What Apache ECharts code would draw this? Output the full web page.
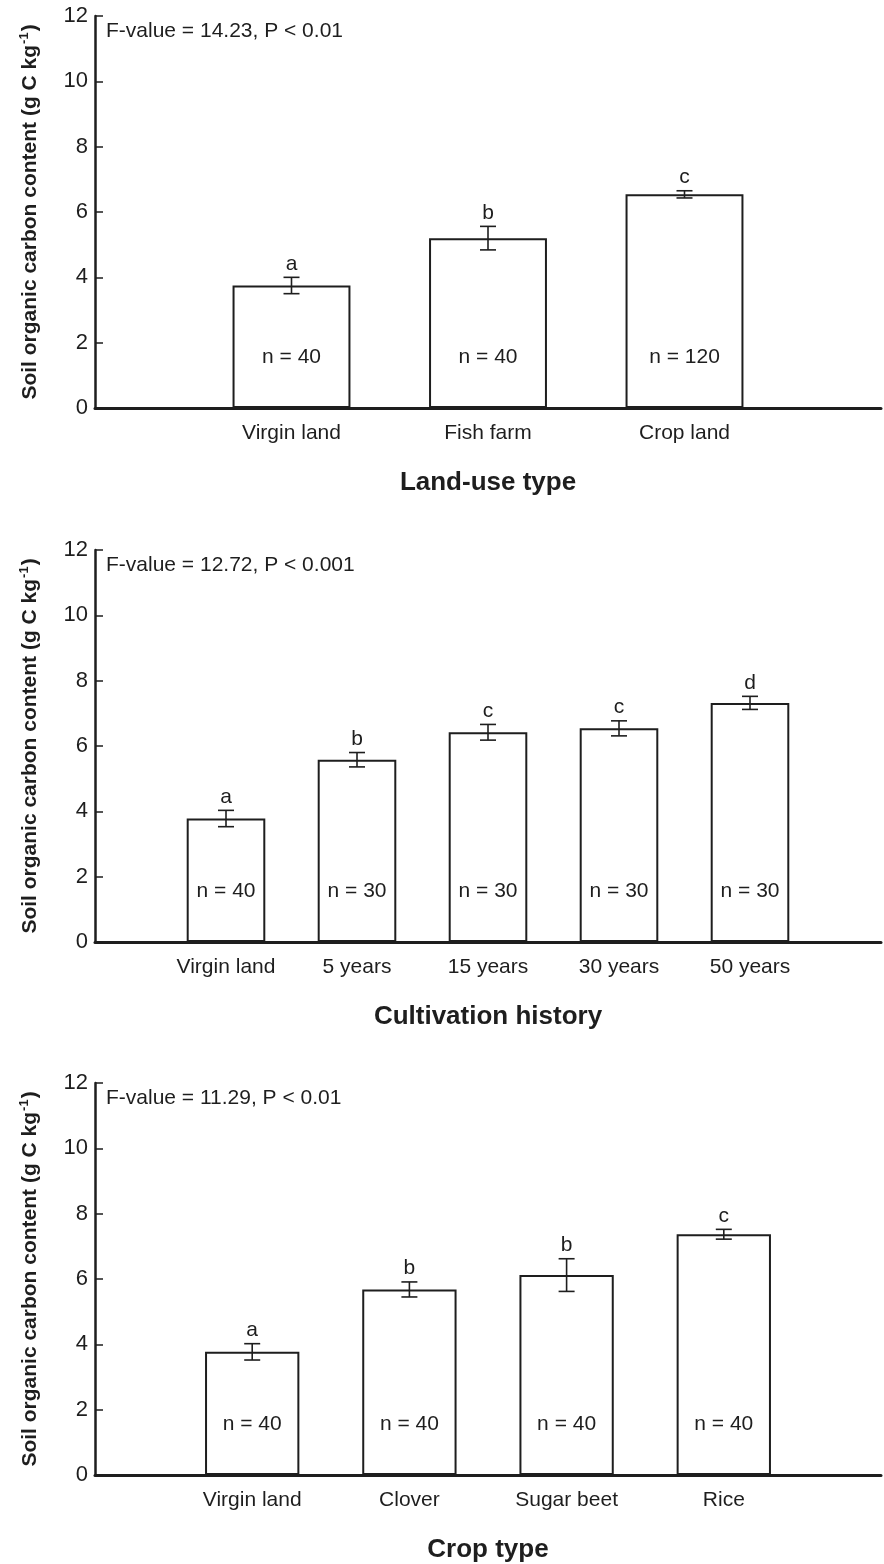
<!DOCTYPE html>
<html>
<head>
<meta charset="utf-8">
<script src="https://cdn.jsdelivr.net/npm/echarts@6/dist/echarts.min.js"></script>
<style>
  html, body { margin: 0; padding: 0; background: #fff; }
  #chart { width: 884px; height: 1564px; }
</style>
</head>
<body>
<div id="chart"></div>
<script>
// ---------- DATA ----------
const cats1 = ['Virgin land', 'Fish farm', 'Crop land'];
const mean1 = [3.75, 5.20, 6.54];
const err1 = [0.25, 0.36, 0.11];
const letters1 = ['a', 'b', 'c'];
const n1 = [40, 40, 120];
const stat1 = 'F-value = 14.23, P < 0.01';
const xTitle1 = 'Land-use type';

const cats2 = ['Virgin land', '5 years', '15 years', '30 years', '50 years'];
const mean2 = [3.78, 5.58, 6.42, 6.54, 7.32];
const err2 = [0.25, 0.22, 0.24, 0.23, 0.20];
const letters2 = ['a', 'b', 'c', 'c', 'd'];
const n2 = [40, 30, 30, 30, 30];
const stat2 = 'F-value = 12.72, P < 0.001';
const xTitle2 = 'Cultivation history';

const cats3 = ['Virgin land', 'Clover', 'Sugar beet', 'Rice'];
const mean3 = [3.77, 5.68, 6.12, 7.37];
const err3 = [0.25, 0.23, 0.50, 0.15];
const letters3 = ['a', 'b', 'b', 'c'];
const n3 = [40, 40, 40, 40];
const stat3 = 'F-value = 11.29, P < 0.01';
const xTitle3 = 'Crop type';

const yTicks = [0, 2, 4, 6, 8, 10, 12];
const yTitle = 'Soil organic carbon content (g C kg';

// ---------- STYLE / LAYOUT ----------
const FONT = 'Liberation Sans, Arial, Helvetica, sans-serif';
const INK = '#1e1e1e';
const panelTops = [16, 550, 1083];
const panelH = 392;
const gridLeft = 95;
const gridRight = 2;
const nLabelLevel = 1.57;

const panels = [
  { cats: cats1, mean: mean1, err: err1, letters: letters1, n: n1, stat: stat1, title: xTitle1 },
  { cats: cats2, mean: mean2, err: err2, letters: letters2, n: n2, stat: stat2, title: xTitle2 },
  { cats: cats3, mean: mean3, err: err3, letters: letters3, n: n3, stat: stat3, title: xTitle3 }
];

const chart = echarts.init(document.getElementById('chart'), null, { renderer: 'canvas' });

const grid = [], xAxis = [], yAxis = [], series = [], title = [];

panels.forEach((p, k) => {
  grid.push({ left: gridLeft, right: gridRight, top: panelTops[k], height: panelH, containLabel: false });
  const nCat = p.cats.length;
  xAxis.push({
    type: 'category',
    gridIndex: k,
    data: [''].concat(p.cats, ['']),
    boundaryGap: false,
    axisLine: { show: true, lineStyle: { color: INK, width: 3 } },
    axisTick: {
      show: true, inside: true, length: 7,
      lineStyle: { color: INK, width: 1.5 },
      interval: (idx) => idx > 0 && idx <= nCat
    },
    axisLabel: {
      show: true, margin: 15, fontSize: 21, color: INK, fontFamily: FONT,
      interval: 0
    },
    splitLine: { show: false },
    name: p.title,
    nameLocation: 'middle',
    nameGap: 62,
    nameTextStyle: { fontSize: 26, fontWeight: 'bold', color: INK, fontFamily: FONT }
  });
  yAxis.push({
    type: 'value',
    gridIndex: k,
    min: yTicks[0],
    max: yTicks[yTicks.length - 1],
    interval: 2,
    axisLine: { show: true, lineStyle: { color: INK, width: 2.5 } },
    axisTick: { show: true, inside: true, length: 8, lineStyle: { color: INK, width: 1.5 } },
    axisLabel: { fontSize: 22, color: INK, fontFamily: FONT, margin: 7 },
    splitLine: { show: false },
    name: '{t|' + yTitle + '}{s|-1}{t|)}',
    nameLocation: 'middle',
    nameGap: 52,
    nameTextStyle: {
      color: INK,
      rich: {
        t: { fontSize: 21, fontWeight: 'bold', color: INK, fontFamily: FONT, lineHeight: 25 },
        s: { fontSize: 13, fontWeight: 'bold', color: INK, fontFamily: FONT, verticalAlign: 'top', lineHeight: 25, padding: [0, 1, 10, 1] }
      }
    }
  });
  // bars
  series.push({
    type: 'bar',
    xAxisIndex: k,
    yAxisIndex: k,
    data: ['-'].concat(p.mean, ['-']),
    barWidth: '60%',
    itemStyle: { color: '#fff', borderColor: INK, borderWidth: 2 },
    silent: true,
    animation: false,
    z: 2
  });
  // error bars, significance letters, n labels
  series.push({
    type: 'custom',
    xAxisIndex: k,
    yAxisIndex: k,
    clip: false,
    animation: false,
    silent: true,
    z: 5,
    data: p.mean.map((m, i) => [i + 1, m, p.err[i]]),
    encode: { x: 0, y: 1 },
    renderItem: (params, api) => {
      const x = api.value(0), m = api.value(1), e = api.value(2);
      const top = api.coord([x, m + e]);
      const bot = api.coord([x, m - e]);
      const nPos = api.coord([x, nLabelLevel]);
      const capHalf = 8;
      const ls = { stroke: INK, lineWidth: 1.6 };
      const i = params.dataIndex;
      return {
        type: 'group',
        children: [
          { type: 'line', shape: { x1: top[0], y1: top[1], x2: bot[0], y2: bot[1] }, style: ls },
          { type: 'line', shape: { x1: top[0] - capHalf, y1: top[1], x2: top[0] + capHalf, y2: top[1] }, style: ls },
          { type: 'line', shape: { x1: bot[0] - capHalf, y1: bot[1], x2: bot[0] + capHalf, y2: bot[1] }, style: ls },
          { type: 'text', x: top[0], y: top[1] - 3,
            style: { text: p.letters[i], fill: INK, font: '21px ' + FONT, textAlign: 'center', textVerticalAlign: 'bottom' } },
          { type: 'text', x: nPos[0], y: nPos[1],
            style: { text: 'n = ' + p.n[i], fill: INK, font: '21px ' + FONT, textAlign: 'center', textVerticalAlign: 'middle' } }
        ]
      };
    }
  });
  title.push({
    text: p.stat,
    left: 106,
    top: panelTops[k] + 5,
    padding: 0,
    textStyle: { fontSize: 21, fontWeight: 'normal', color: INK, fontFamily: FONT }
  });
});

chart.setOption({
  animation: false,
  backgroundColor: '#fff',
  title: title,
  grid: grid,
  xAxis: xAxis,
  yAxis: yAxis,
  series: series
});
</script>
</body>
</html>
